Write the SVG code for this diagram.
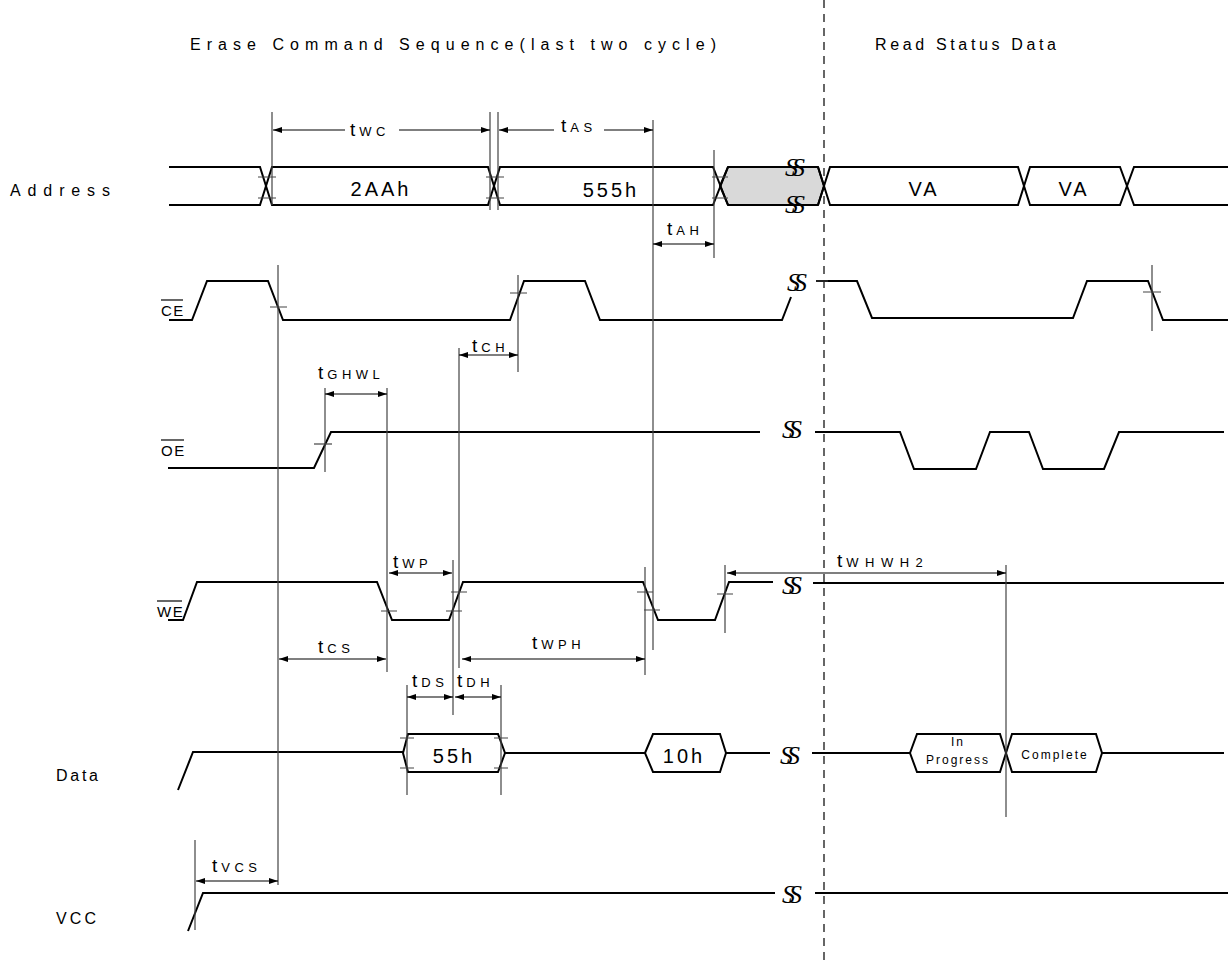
<svg xmlns="http://www.w3.org/2000/svg" width="1228" height="962" viewBox="0 0 1228 962">
<style>
.sig{fill:none;stroke:#000;stroke-width:2;stroke-linejoin:miter}
.bus{fill:#fff;stroke:#000;stroke-width:2}
.grey{fill:#d9d9d9;stroke:#000;stroke-width:2}
.ref{fill:none;stroke:#444;stroke-width:1.2}
.tick{fill:none;stroke:#444;stroke-width:1.2}
.dim{fill:none;stroke:#000;stroke-width:1.2;marker-start:url(#a0);marker-end:url(#a1)}
.dimL{fill:none;stroke:#000;stroke-width:1.2;marker-start:url(#a0)}
.dimR{fill:none;stroke:#000;stroke-width:1.2;marker-end:url(#a1)}
.dash{fill:none;stroke:#000;stroke-width:1.2;stroke-dasharray:8 6}
.ovl{stroke:#000;stroke-width:1.2}
text{font-family:"Liberation Sans",Arial,sans-serif;fill:#000}
.title{font-size:16px;letter-spacing:2px}
.lab{font-size:16px;letter-spacing:2px}
.sl{font-size:15px;letter-spacing:1.5px}
.bl{font-size:20px;letter-spacing:3px;text-anchor:middle}
.t{font-size:19px;letter-spacing:4px}
.sub{font-size:13px;letter-spacing:4.5px}
.ss{font-family:"Liberation Serif","DejaVu Serif",serif;font-style:italic;font-size:26px;letter-spacing:-6px}
.sm{font-size:12px;letter-spacing:2px;text-anchor:middle}
</style>
<defs>
<marker id="a1" markerWidth="10" markerHeight="8" refX="9" refY="4" orient="auto" markerUnits="userSpaceOnUse"><path d="M0,1 L9,4 L0,7 Z" fill="#000"/></marker>
<marker id="a0" markerWidth="10" markerHeight="8" refX="0" refY="4" orient="auto" markerUnits="userSpaceOnUse"><path d="M9,1 L0,4 L9,7 Z" fill="#000"/></marker>
</defs>
<rect width="1228" height="962" fill="#fff"/>

<g id="titles">
<text class="title" x="190" y="50" textLength="528" lengthAdjust="spacing">Erase Command Sequence(last two cycle)</text>
<text class="title" x="875" y="50" textLength="183" lengthAdjust="spacing">Read Status Data</text>
</g>

<line id="divider" class="dash" x1="824" y1="0" x2="824" y2="962"/>

<g id="address">
<text class="lab" x="10" y="196" textLength="102" lengthAdjust="spacing">Address</text>
<polygon class="grey" points="720,186 728,167 818,167 824,186 818,205 728,205"/>
<path class="sig" d="M169,167 H260 L272,205 H488 L500,167 H713 L728,205 M818,205 L830,167 H1018 L1030,205 H1120 L1134,167 H1228"/>
<path class="sig" d="M169,205 H260 L272,167 H488 L500,205 H713 L728,167 M818,167 L830,205 H1018 L1030,167 H1120 L1134,205 H1228"/>
<text class="bl" x="381" y="196">2AAh</text>
<text class="bl" x="611" y="197">555h</text>
<text class="bl" x="924" y="196">VA</text>
<text class="bl" x="1074" y="196">VA</text>
<text class="ss" x="785" y="176">SS</text>
<text class="ss" x="785" y="213">SS</text>
<path class="tick" d="M258,177 H276 M258,198 H276 M486,177 H504 M486,198 H504 M712,177 H728 M712,198 H728"/>
</g>

<g id="ce">
<text class="sl" x="161" y="316">CE</text>
<line class="ovl" x1="161" y1="300" x2="183" y2="300"/>
<path class="sig" d="M169,320 H192 L207,281 H268 L283,320 H510 L524,281 H585 L600,320 H782 L791,297"/>
<text class="ss" x="787" y="291">SS</text>
<path class="sig" d="M816,281 H857 L872,318 H1073 L1087,281 H1148 L1163,320 H1228"/>
<path class="tick" d="M270,307 H287 M510,293 H527 M1143,292 H1161 M816,281 H828"/>
</g>

<g id="oe">
<text class="sl" x="161" y="456">OE</text>
<line class="ovl" x1="161" y1="440" x2="184" y2="440"/>
<path class="sig" d="M168,468 H314 L331,432 H760"/>
<text class="ss" x="782" y="438">SS</text>
<path class="sig" d="M815,432 H900 L914,469 H976 L990,432 H1029 L1043,469 H1104 L1119,432 H1224"/>
<path class="tick" d="M314,444 H332"/>
</g>

<g id="we">
<text class="sl" x="157" y="617">WE</text>
<line class="ovl" x1="157" y1="601" x2="182" y2="601"/>
<path class="sig" d="M168,620 H183 L197,582 H377 L392,620 H449 L463,582 H643 L658,620 H715 L729,582 H773"/>
<text class="ss" x="782" y="594">SS</text>
<path class="sig" d="M813,583 H1224"/>
<path class="tick" d="M381,611 H397 M446,611 H462 M451,592 H467 M637,592 H653 M644,610 H660 M717,594 H733"/>
</g>

<g id="data">
<text class="lab" x="56" y="781" textLength="44" lengthAdjust="spacing">Data</text>
<path class="sig" d="M178,790 L193,752 H403 M505,753 H645 M726,753 H770 M812,753 H910 M1102,753 H1224"/>
<polygon class="bus" points="403,753 408,734 498,734 505,753 498,772 408,772"/>
<polygon class="bus" points="645,753 653,734 720,734 726,753 720,772 653,772"/>
<polygon class="bus" points="910,753 917,734 1000,734 1006,753 1000,772 917,772"/>
<polygon class="bus" points="1006,753 1012,734 1096,734 1102,753 1096,772 1012,772"/>
<text class="bl" x="454" y="763">55h</text>
<text class="bl" x="684" y="763">10h</text>
<text class="sm" x="958" y="746">In</text>
<text class="sm" x="958" y="764">Progress</text>
<text class="sm" x="1055" y="759">Complete</text>
<text class="ss" x="780" y="764">SS</text>
<path class="tick" d="M400,738 H414 M400,768 H414 M494,738 H508 M494,768 H508"/>
</g>

<g id="vcc">
<text class="lab" x="56" y="924" textLength="42" lengthAdjust="spacing">VCC</text>
<path class="sig" d="M188,931 L203,893 H775 M815,893 H1228"/>
<text class="ss" x="782" y="903">SS</text>
</g>

<g id="connectors">
<path class="ref" d="M272,112 V205 M490,112 V210 M498,112 V210 M653,120 V650 M714,150 V258 M278,265 V885 M518,275 V372 M459,348 V668 M325,388 V472 M387,388 V672 M453,560 V715 M645,567 V675 M725,565 V633 M1006,565 V817 M407,685 V795 M501,685 V795 M195,840 V930 M1152,265 V331"/>
<line class="dimL" x1="273" y1="130" x2="345" y2="130"/>
<line class="dimR" x1="399" y1="130" x2="490" y2="130"/>
<text class="t" x="350" y="136">t<tspan class="sub">WC</tspan></text>
<line class="dimL" x1="499" y1="130" x2="554" y2="130"/>
<line class="dimR" x1="604" y1="130" x2="653" y2="130"/>
<text class="t" x="561" y="132">t<tspan class="sub">AS</tspan></text>
<line class="dim" x1="653" y1="244" x2="714" y2="244"/>
<text class="t" x="667" y="235">t<tspan class="sub">AH</tspan></text>
<line class="dim" x1="459" y1="355" x2="518" y2="355"/>
<text class="t" x="472" y="352">t<tspan class="sub">CH</tspan></text>
<line class="dim" x1="325" y1="394" x2="387" y2="394"/>
<text class="t" x="318" y="379">t<tspan class="sub">GHWL</tspan></text>
<line class="dim" x1="389" y1="573" x2="452" y2="573"/>
<text class="t" x="393" y="568">t<tspan class="sub">WP</tspan></text>
<line class="dim" x1="727" y1="573" x2="1006" y2="573"/>
<text class="t" x="837" y="567">t<tspan class="sub" style="letter-spacing:6.5px">WHWH2</tspan></text>
<line class="dim" x1="279" y1="659" x2="386" y2="659"/>
<text class="t" x="318" y="653">t<tspan class="sub">CS</tspan></text>
<line class="dim" x1="462" y1="659" x2="645" y2="659"/>
<text class="t" x="532" y="649">t<tspan class="sub">WPH</tspan></text>
<line class="dim" x1="407" y1="697" x2="453" y2="697"/>
<line class="dim" x1="455" y1="697" x2="501" y2="697"/>
<text class="t" x="412" y="687">t<tspan class="sub">DS</tspan></text>
<text class="t" x="457" y="687">t<tspan class="sub">DH</tspan></text>
<line class="dim" x1="196" y1="881" x2="278" y2="881"/>
<text class="t" x="212" y="872">t<tspan class="sub">VCS</tspan></text>
</g>
</svg>
